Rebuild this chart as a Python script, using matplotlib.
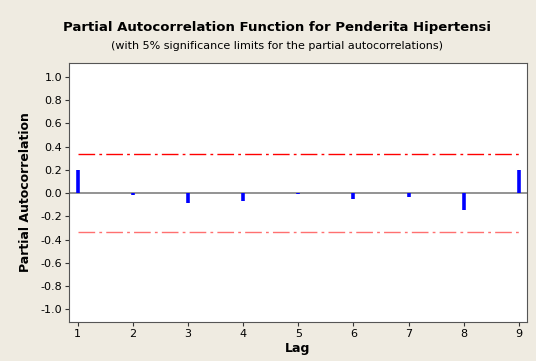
import matplotlib.pyplot as plt
import numpy as np

lags = [1, 2, 3, 4, 5, 6, 7, 8, 9]
pacf = [0.199, -0.017, -0.086, -0.069, -0.004, -0.055, -0.032, -0.144, 0.197]
upper_limit = 0.338
lower_limit = -0.338
yticks = [-1.0, -0.8, -0.6, -0.4, -0.2, 0.0, 0.2, 0.4, 0.6, 0.8, 1.0]

bg = '#efebe1'
fig = plt.figure(figsize=(5.36, 3.61), dpi=100, facecolor=bg)
ax = fig.add_axes([69/536, 1 - 322/361, (527 - 69)/536, (322 - 63)/361])
ax.set_facecolor('white')

ax.axhline(0, color='#808080', lw=1.2, zorder=1)
ax.vlines(lags, 0, pacf, color='blue', lw=2.6, zorder=3)
ax.hlines(upper_limit, lags[0], lags[-1], color='red', lw=1, ls=(0, (12, 3, 2, 3)))
ax.hlines(lower_limit, lags[0], lags[-1], color='#ff7070', lw=1, ls=(0, (12, 3, 2, 3)))

ax.set_xlim(0.84, 9.15)
ax.set_ylim(-1.11, 1.12)
ax.set_xticks(lags)
ax.set_yticks(yticks)
ax.set_yticklabels(['%.1f' % v for v in yticks])
ax.tick_params(labelsize=8, length=3, color='#333333', pad=2)
for s in ax.spines.values():
    s.set_color('#555555')

ax.set_xlabel('Lag', fontsize=9, fontweight='bold', labelpad=2)
ax.set_ylabel('Partial Autocorrelation', fontsize=9, fontweight='bold', labelpad=6)

fig.text(277/536, 1 - 28/361, 'Partial Autocorrelation Function for Penderita Hipertensi',
         ha='center', va='center', fontsize=9.5, fontweight='bold')
fig.text(277/536, 1 - 46/361, '(with 5% significance limits for the partial autocorrelations)',
         ha='center', va='center', fontsize=8)

fig.savefig('out.png', dpi=100, facecolor=bg)
